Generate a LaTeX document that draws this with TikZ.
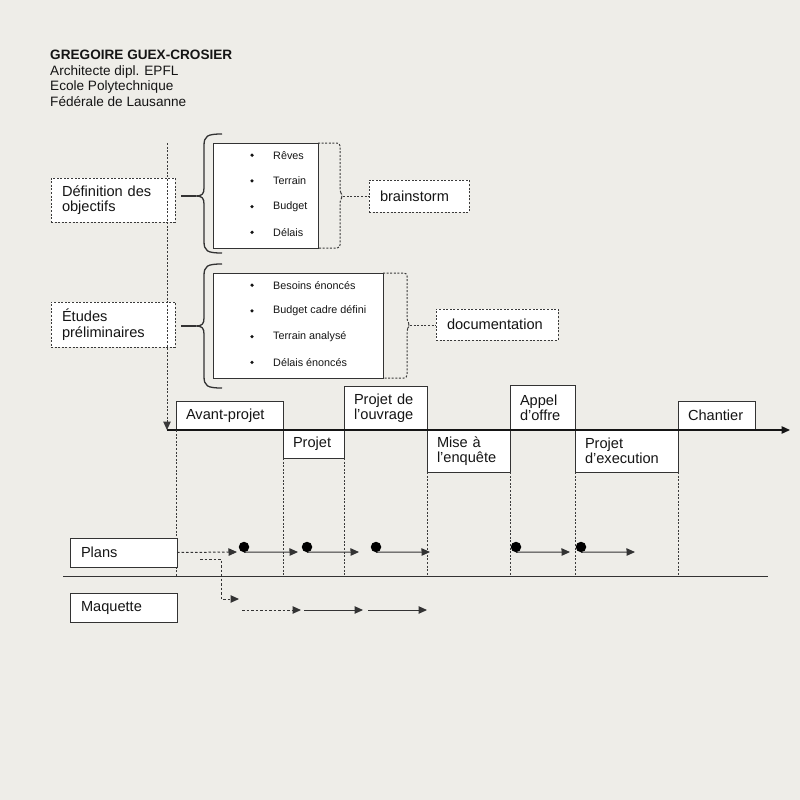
\documentclass[tikz,border=0pt]{standalone}
\usepackage{fontspec}
\setmainfont{Liberation Sans}
\usetikzlibrary{arrows.meta,positioning}

\begin{document}
\begin{tikzpicture}[x=1pt, y=-1pt,
    phase/.style={draw=lineColour, fill=white, line width=0.9pt, outer sep=0pt, inner xsep=10pt, inner ysep=0pt, align=left, text=inkColour, font=\fontsize{14.6}{15}\selectfont},
    stage/.style={draw=guideColour, fill=white, line width=0.9pt, dash pattern=on 2pt off 1.6pt, outer sep=0pt, inner xsep=11pt, inner ysep=0pt, minimum width=124pt, text width=102pt, align=left, text=inkColour, font=\fontsize{14.6}{15.5}\selectfont},
    note/.style={stage, minimum width=#1, text width=#1-22pt},
    list/.style={draw=lineColour, fill=white, line width=0.9pt, outer sep=0pt, inner sep=0pt},
    item/.style={anchor=west, inner sep=3pt, text=inkColour, font=\fontsize{10.8}{12}\selectfont},
    bullet/.style={circle, fill=inkColour, inner sep=0pt, minimum size=3.6pt},
    bigdot/.style={circle, fill=black, inner sep=0pt, outer sep=0pt, minimum size=10.5pt},
    guide/.style={draw=guideColour, line width=1pt, dash pattern=on 2pt off 1.6pt},
    brace/.style={draw=lineColour, line width=1.3pt},
    flow/.style={draw=lineColour, line width=1pt, -{Triangle[length=8.5pt,width=7.5pt]}},
    dashflow/.style={flow, dash pattern=on 2.5pt off 2pt}
]
    \definecolor{paperColour}{HTML}{EEEDE8}
    \definecolor{lineColour}{HTML}{333333}
    \definecolor{guideColour}{HTML}{3A3A3A}
    \definecolor{inkColour}{HTML}{151515}

    \fill[paperColour] (0,0) rectangle (800,800);
    \useasboundingbox (0,0) rectangle (800,800);

    \node[anchor=north west, align=left, inner sep=0pt, text=inkColour, font=\fontsize{13.6}{15.5}\selectfont] (author) at (50,50)
        {\textbf{GREGOIRE GUEX-CROSIER}\\Architecte dipl. EPFL\\Ecole Polytechnique\\Fédérale de Lausanne};

    \node[stage, minimum height=44pt, anchor=north west] (objectifs) at (51,178) {Définition des\\objectifs};
    \node[stage, minimum height=45pt, anchor=north west] (etudes) at (51,302) {Études\\préliminaires};

    \foreach \n/\t/\m/\b in {A/134/196/253, B/264/326/388} {
        \draw[brace] (222,\t) .. controls (207,\t) and (204,\t+2) .. (204,\t+12) -- (204,\m-8)
            .. controls (204,\m-2) and (202,\m) .. (196,\m)
            .. controls (202,\m) and (204,\m+2) .. (204,\m+8) -- (204,\b-12)
            .. controls (204,\b-2) and (207,\b) .. (222,\b);
        \coordinate (tip\n) at (196,\m);
    }
    \draw[brace, shorten >=6pt] (tipA) -- (tipA -| objectifs.east);
    \draw[brace, shorten >=6pt] (tipB) -- (tipB -| etudes.east);

    \node[list, minimum width=105pt, minimum height=105pt, anchor=north west] (listA) at (213,143) {};
    \node[list, minimum width=170pt, minimum height=105pt, anchor=north west] (listB) at (213,273) {};

    \foreach \word [count=\i] in {Rêves, Terrain, Budget, Délais} {
        \node[bullet] (bulletA\i) at (252,129.5+25.7*\i) {};
        \node[item] (itemA\i) at (270,129.5+25.7*\i) {\word};
    }
    \foreach \word [count=\i] in {Besoins énoncés, Budget cadre défini, Terrain analysé, Délais énoncés} {
        \node[bullet] (bulletB\i) at (252,259.5+25.7*\i) {};
        \node[item] (itemB\i) at (270,259.5+25.7*\i) {\word};
    }

    \node[note=100pt, minimum height=32pt, anchor=north west] (brainstorm) at (369,180) {brainstorm};
    \node[note=122pt, minimum height=31pt, anchor=north west] (documentation) at (436,309) {documentation};

    \coordinate (brkA) at (343,196);
    \coordinate (brkB) at (410,325);
    \draw[guide, rounded corners=3pt] (listA.north east) -- (340,143) -- (340,192) -- (brkA) -- (340,200) -- (340,248) -- (listA.south east);
    \draw[guide, rounded corners=3pt] (listB.north east) -- (407,273) -- (407,321) -- (brkB) -- (407,329) -- (407,378) -- (listB.south east);
    \draw[guide] (brkA) -- (brkA -| brainstorm.west);
    \draw[guide] (brkB) -- (brkB -| documentation.west);

    \node[phase, text width=87pt, minimum height=29pt, anchor=south west] (avant) at (176,430) {Avant-projet};
    \node[phase, text width=41pt, minimum height=28pt, anchor=north west] (projet) at (avant.south east) {Projet};
    \node[phase, text width=63pt, minimum height=44pt, anchor=south west] (ouvrage) at (projet.north east) {Projet de\\l'ouvrage};
    \node[phase, text width=63pt, minimum height=42pt, anchor=north west] (mise) at (ouvrage.south east) {Mise à\\l'enquête};
    \node[phase, text width=45pt, minimum height=45pt, anchor=south west] (appel) at (mise.north east) {Appel\\d'offre};
    \node[phase, text width=83pt, minimum height=42pt, anchor=north west] (execution) at (appel.south east) {Projet\\d'execution};
    \node[phase, text width=57pt, minimum height=29pt, anchor=south west] (chantier) at (execution.north east) {Chantier};

    \coordinate (flowTop) at (167,143);
    \coordinate (axisStart) at (167,430);
    \coordinate (axisEnd) at (790,430);
    \draw[draw=inkColour, line width=1.3pt, -{Triangle[length=8.5pt,width=7.5pt]}] (axisStart) -- (axisEnd);
    \draw[guide, -{Triangle[length=8.5pt,width=7.5pt]}] (flowTop) -- (axisStart);

    \coordinate (sepL) at (63,576);
    \coordinate (sepR) at (768,576);
    \draw[draw=lineColour, line width=1pt] (sepL) -- (sepR);

    \foreach \p in {avant.south west, projet.south west, projet.south east, mise.south west, mise.south east, execution.south west, execution.south east}
        \draw[guide] (\p) -- (\p |- sepL);

    \node[phase, text width=85pt, inner xsep=11pt, minimum height=29pt, anchor=north west] (plans) at (70,538) {Plans};
    \node[phase, text width=85pt, inner xsep=11pt, minimum height=29pt, anchor=north west] (maquette) at (70,593) {Maquette};

    \coordinate (plansEnd) at (237,552);
    \draw[dashflow] (plans.east) -- (plansEnd);
    \foreach \s/\e in {244/298, 307/359, 376/430, 516/570, 581/635} {
        \node[bigdot] (dot\s) at (\s,547) {};
        \coordinate (end\s) at (\e,552);
        \draw[flow] (dot\s.south) -- (end\s);
    }

    \coordinate (mqStart) at (200,559);
    \coordinate (mqEnd) at (239,599);
    \draw[dashflow] (mqStart) -- ++(21,0) |- (mqEnd);
    \foreach \s/\e/\look in {242/301/dashflow, 304/363/flow, 368/427/flow} {
        \coordinate (ms\s) at (\s,610);
        \coordinate (me\s) at (\e,610);
        \draw[\look] (ms\s) -- (me\s);
    }

\end{tikzpicture}
\end{document}
